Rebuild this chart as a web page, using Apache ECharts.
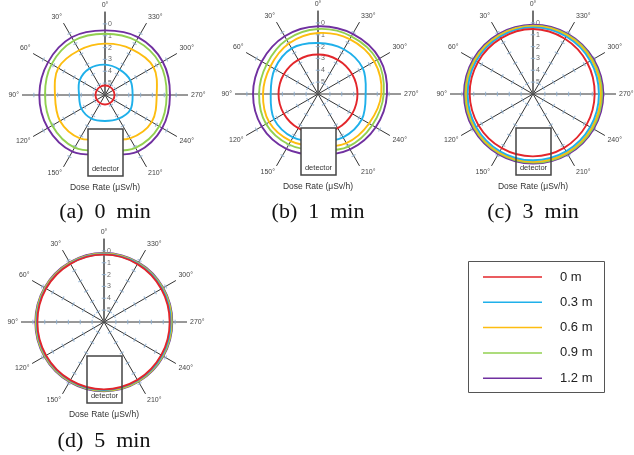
<!DOCTYPE html>
<html><head><meta charset="utf-8">
<script src="https://cdn.jsdelivr.net/npm/echarts@6/dist/echarts.min.js"></script>
<style>html,body{margin:0;padding:0;background:#fff}#c{width:634px;height:455px}</style>
</head><body><div id="c"></div>
<script>
// ---- data ----
const angles = [0, 30, 60, 90, 120, 150, 180, 210, 240, 270, 300, 330];
const angleLabels = ['0°', '30°', '60°', '90°', '120°', '150°', '', '210°', '240°', '270°', '300°', '330°'];
const radialTicks = [0, 1, 2, 3, 4, 5];
const seriesNames = ['0 m', '0.3 m', '0.6 m', '0.9 m', '1.2 m'];
const seriesColors = ['#e3262b', '#1fb0ea', '#fdbd10', '#92d050', '#7030a0'];
const panelCaptions = ['(a)  0  min', '(b)  1  min', '(c)  3  min', '(d)  5  min'];
const axisTitle = 'Dose Rate (μSv/h)';
const boxLabel = 'detector';

// (a) 0 min
const a_0m  = [5.20, 5.20, 5.20, 5.20, 5.20, 5.20, 5.20, 5.20, 5.20, 5.20, 5.20, 5.20];
const a_03m = [3.44, 3.41, 3.53, 3.81, 3.70, 3.70, 3.81, 3.70, 3.53, 3.67, 3.53, 3.53];
const a_06m = [1.67, 1.64, 1.45, 1.78, 1.62, 1.78, 2.32, 1.78, 1.45, 1.64, 1.28, 1.53];
const a_09m = [0.83, 0.72, 0.80, 0.94, 0.86, 0.88, 1.33, 0.86, 0.72, 0.80, 0.66, 0.72];
const a_12m = [0.55, 0.38, 0.46, 0.46, 0.43, 0.49, 1.00, 0.49, 0.43, 0.52, 0.38, 0.38];
// (b) 1 min
const b_0m  = [2.67, 2.67, 2.67, 2.67, 2.67, 2.67, 2.67, 2.67, 2.67, 2.67, 2.67, 2.67];
const b_03m = [1.70, 1.56, 1.78, 2.01, 1.73, 1.78, 2.01, 1.78, 1.73, 1.98, 1.64, 1.64];
const b_06m = [0.86, 1.08, 1.36, 1.36, 1.25, 1.42, 1.59, 1.22, 1.03, 0.66, 0.52, 0.66];
const b_09m = [0.52, 0.72, 1.00, 1.03, 0.94, 1.08, 1.25, 0.88, 0.72, 0.46, 0.24, 0.38];
const b_12m = [0.29, 0.38, 0.52, 0.52, 0.52, 0.66, 0.88, 0.60, 0.38, 0.18, 0.01, 0.15];
// (c) 3 min
const c_0m  = [0.52, 0.58, 0.63, 0.66, 0.70, 0.73, 0.74, 0.76, 0.79, 0.80, 0.72, 0.62];
const c_03m = [0.38, 0.42, 0.46, 0.49, 0.46, 0.43, 0.41, 0.42, 0.43, 0.44, 0.42, 0.40];
const c_06m = [0.29, 0.32, 0.35, 0.38, 0.35, 0.31, 0.29, 0.29, 0.29, 0.29, 0.29, 0.29];
const c_09m = [0.24, 0.26, 0.28, 0.29, 0.27, 0.24, 0.21, 0.20, 0.19, 0.18, 0.20, 0.22];
const c_12m = [0.15, 0.16, 0.17, 0.18, 0.16, 0.14, 0.13, 0.11, 0.09, 0.07, 0.10, 0.13];
// (d) 5 min
const d_0m  = [0.32, 0.34, 0.36, 0.38, 0.36, 0.34, 0.32, 0.36, 0.42, 0.46, 0.42, 0.36];
const d_03m = [0.28, 0.30, 0.32, 0.33, 0.31, 0.29, 0.27, 0.30, 0.34, 0.38, 0.35, 0.31];
const d_06m = [0.25, 0.27, 0.28, 0.29, 0.27, 0.25, 0.23, 0.26, 0.30, 0.33, 0.31, 0.28];
const d_09m = [0.21, 0.23, 0.24, 0.25, 0.23, 0.21, 0.19, 0.22, 0.26, 0.28, 0.27, 0.24];
const d_12m = [0.18, 0.19, 0.20, 0.21, 0.19, 0.17, 0.15, 0.18, 0.22, 0.24, 0.23, 0.20];

const panels = [
  [a_0m, a_03m, a_06m, a_09m, a_12m],
  [b_0m, b_03m, b_06m, b_09m, b_12m],
  [c_0m, c_03m, c_06m, c_09m, c_12m],
  [d_0m, d_03m, d_06m, d_09m, d_12m]
];

// ---- layout ----
const centers = [[105, 95], [318, 94], [533, 94], [104, 322]];
const R = 83;
const boxFilled = [true, true, false, false];
const captionPos = [[105, 212], [318, 212], [533, 212], [104, 441]];

const chart = echarts.init(document.getElementById('c'), null, {renderer: 'canvas'});

const spokeColors = angles.map(a => a === 180 ? 'rgba(0,0,0,0)' : '#333');

// closed smooth loop through the data points, positioned by the polar axes
function loopRenderer(color, width) {
  return function (params, api) {
    if (params.dataIndexInside !== 0) return null;
    const n = params.dataInsideLength;
    const pts = [];
    for (let i = 0; i < n; i++) pts.push(api.coord([api.value(0, i), api.value(1, i)]));
    return {
      type: 'polygon', silent: true,
      shape: {points: pts, smooth: 0.35},
      style: {fill: 'none', stroke: color, lineWidth: width}
    };
  };
}

const polar = [], angleAxis = [], radiusAxis = [], series = [], graphic = [];
centers.forEach((c, p) => {
  polar.push({center: c, radius: R});
  angleAxis.push({
    polarIndex: p, type: 'value', min: 0, max: 360, interval: 30,
    startAngle: 90, clockwise: false,
    axisLine: {show: false}, axisTick: {show: false},
    axisLabel: {
      margin: 3, fontSize: 7, color: '#444', fontFamily: 'Liberation Sans, Arial',
      formatter: v => { const i = angles.indexOf(v); return i >= 0 ? angleLabels[i] : ''; }
    },
    splitLine: {show: true, lineStyle: {color: spokeColors, width: 1}}
  });
  radiusAxis.push({
    polarIndex: p, type: 'value', min: -1, max: 6, interval: 1, inverse: true,
    axisLine: {show: true, lineStyle: {color: '#666', width: 1.5}},
    axisTick: {show: false},
    splitLine: {show: false},
    axisLabel: {
      margin: -3, align: 'left', fontSize: 7, color: '#666', fontFamily: 'Liberation Sans, Arial',
      formatter: v => radialTicks.indexOf(v) >= 0 ? String(v) : ''
    }
  });
  // small tick marks on every spoke
  const tickData = [];
  angles.forEach(a => {
    if (a === 180) return;
    radialTicks.forEach(t => tickData.push({value: [t, a], symbolRotate: a - 90}));
  });
  series.push({
    type: 'scatter', coordinateSystem: 'polar', polarIndex: p, silent: true,
    symbol: 'rect', symbolSize: [1.2, 4.5], itemStyle: {color: '#8fb0d2'},
    data: tickData, z: 1, animation: false
  });
  for (let k = seriesNames.length - 1; k >= 0; k--) {
    const vals = panels[p][k];
    series.push({
      type: 'custom', name: seriesNames[k], coordinateSystem: 'polar', polarIndex: p,
      data: angles.map((a, i) => [vals[i], a]),
      renderItem: loopRenderer(seriesColors[k], 1.9),
      itemStyle: {color: seriesColors[k]}, z: 3, animation: false, clip: false
    });
  }
  // detector box
  graphic.push({
    type: 'rect', z: 10,
    shape: {x: c[0] - 17, y: c[1] + 34, width: 35, height: 47},
    style: {fill: boxFilled[p] ? '#fff' : 'none', stroke: '#444', lineWidth: 1.5}
  });
  graphic.push({
    type: 'text', z: 11, x: c[0] + 0.5, y: c[1] + 74,
    style: {text: boxLabel, fill: '#333', font: '7.5px "Liberation Sans", Arial', align: 'center', verticalAlign: 'middle'}
  });
  graphic.push({
    type: 'text', z: 11, x: c[0], y: c[1] + 93,
    style: {text: axisTitle, fill: '#333', font: '8.5px "Liberation Sans", Arial', align: 'center', verticalAlign: 'middle'}
  });
  graphic.push({
    type: 'text', z: 11, x: captionPos[p][0], y: captionPos[p][1],
    style: {text: panelCaptions[p], fill: '#111', font: '22px "Liberation Serif", "Times New Roman", serif', align: 'center', verticalAlign: 'middle'}
  });
});

// legend frame
graphic.push({
  type: 'rect', z: 10,
  shape: {x: 468.5, y: 261.5, width: 136, height: 131},
  style: {fill: 'none', stroke: '#555', lineWidth: 1}
});

chart.setOption({
  animation: false,
  color: seriesColors,
  polar, angleAxis, radiusAxis, series, graphic,
  legend: {
    data: seriesNames, orient: 'vertical', left: 483, top: 270, padding: 0,
    icon: 'rect', itemWidth: 59, itemHeight: 1.5, itemGap: 11.3, selectedMode: false,
    textStyle: {fontSize: 13, lineHeight: 14, color: '#222', fontFamily: 'Liberation Sans, Arial', padding: [0, 0, 0, 13]}
  }
});
</script></body></html>
